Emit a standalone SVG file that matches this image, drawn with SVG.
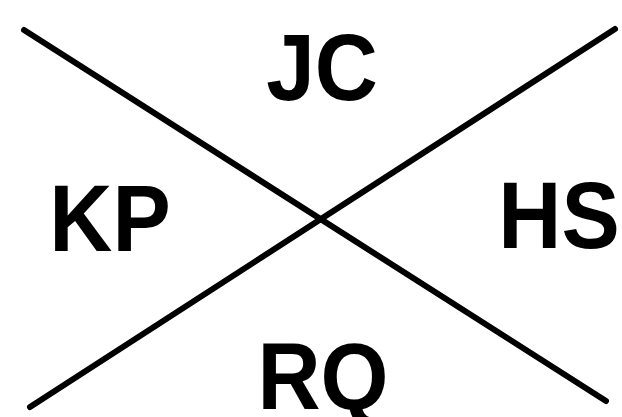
<svg xmlns="http://www.w3.org/2000/svg" width="622" height="417" viewBox="0 0 622 417">
<style>
.ln{stroke:#000;stroke-width:6;stroke-linecap:round;fill:none}
.lb{font-family:"Liberation Sans",Arial,sans-serif;font-weight:bold;font-size:94px;fill:#000;text-anchor:middle}
</style>
<rect width="622" height="417" fill="#fff"/>
<g id="connectors">
<line class="ln" x1="24" y1="30" x2="606" y2="401"/>
<line class="ln" x1="615" y1="29" x2="30" y2="407"/>
</g>
<g id="JC" transform="translate(322,100) scale(0.93,1)"><text class="lb" x="0" y="0">JC</text></g>
<g id="KP" transform="translate(110,251) scale(0.93,1)"><text class="lb" x="0" y="0">KP</text></g>
<g id="HS" transform="translate(559,248) scale(0.93,1)"><text class="lb" x="0" y="0">HS</text></g>
<g id="RQ" transform="translate(323,409) scale(0.93,1)"><text class="lb" x="0" y="0">RQ</text></g>
</svg>
